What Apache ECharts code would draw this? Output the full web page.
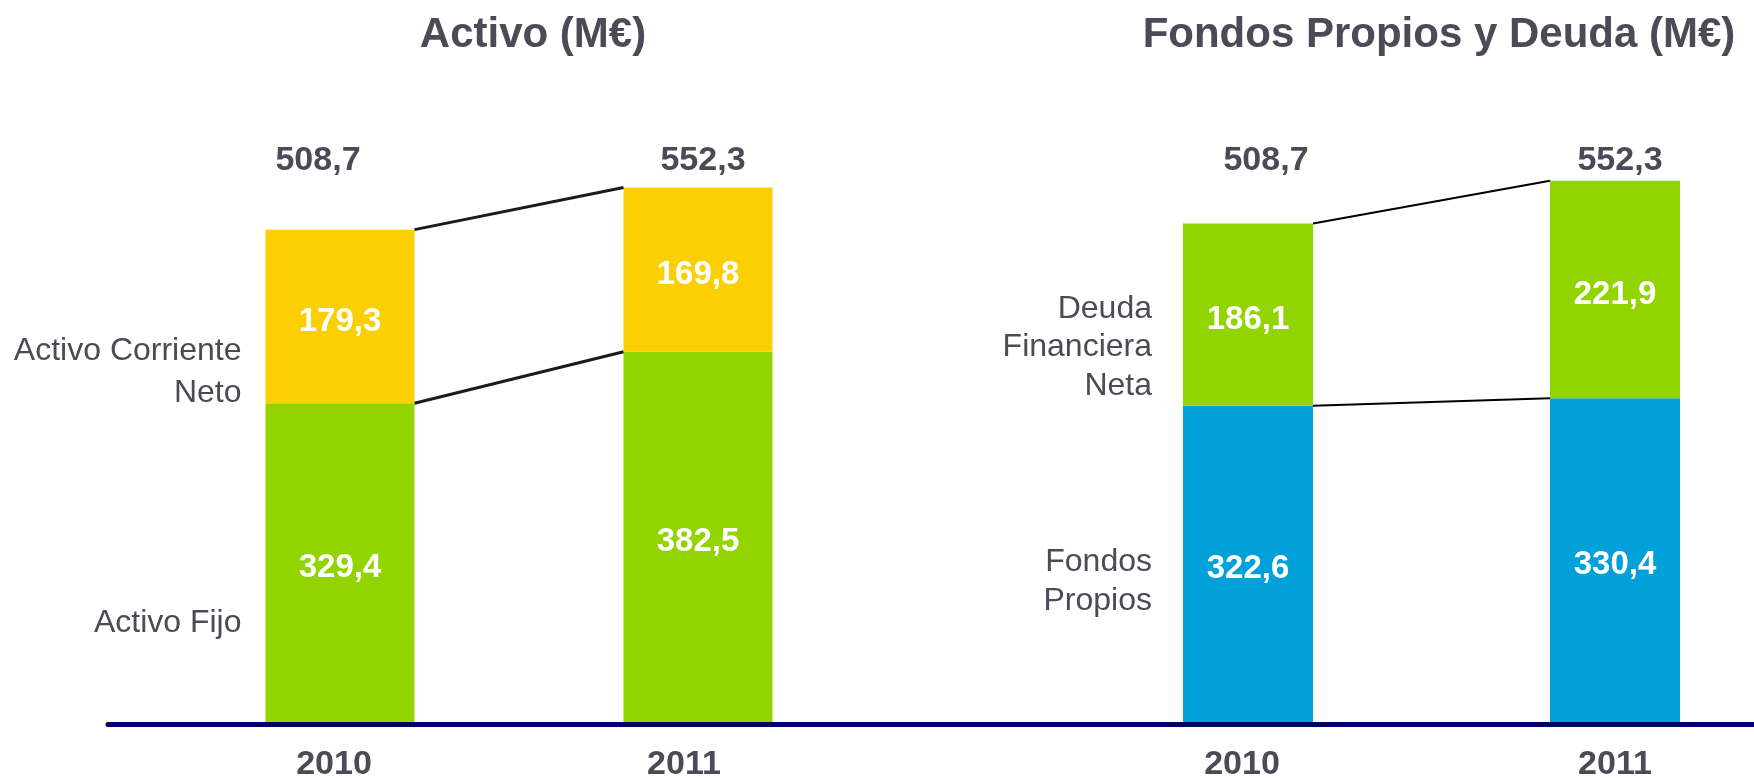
<!DOCTYPE html>
<html>
<head>
<meta charset="utf-8">
<title>Activo / Fondos Propios y Deuda</title>
<style>
  html, body { margin: 0; padding: 0; background: #fff; }
  #chart { width: 1754px; height: 778px; }
</style>
<script src="https://cdn.jsdelivr.net/npm/echarts@6/dist/echarts.min.js"></script>
</head>
<body>
<div id="chart"></div>
<script>
// datos (M€)
var years = ['2010', '2011'];
var activoFijo = [329.4, 382.5];
var activoCorriente = [179.3, 169.8];
var fondosPropios = [322.6, 330.4];
var deudaFinanciera = [186.1, 221.9];

var FONT = "'Liberation Sans', Arial, sans-serif";
var DARK = '#4b4b57';
var GREEN = '#92d400';
var YELLOW = '#fcd000';
var BLUE = '#00a0da';
var NAVY = '#000066';

function fmt(v) {
  return v.toFixed(1).replace('.', ',');
}

function sum(a, b) {
  return a.map(function (v, i) { return +(v + b[i]).toFixed(1); });
}

var totalActivo = sum(activoFijo, activoCorriente);
var totalPasivo = sum(fondosPropios, deudaFinanciera);

// small horizontal nudges of some labels, as in the slide
function shifted(shifts, size) {
  var rich = {};
  shifts.forEach(function (s, i) {
    rich['s' + i] = {
      fontFamily: FONT, fontSize: size, fontWeight: 'bold', color: DARK,
      padding: s < 0 ? [0, -2 * s, 0, 0] : [0, 0, 0, 2 * s]
    };
  });
  return {
    formatter: function (val, idx) { return '{s' + idx + '|' + val + '}'; },
    rich: rich
  };
}

function valueLabel() {
  return {
    show: true,
    position: 'inside',
    offset: [0, 5],
    color: '#fff',
    fontFamily: FONT,
    fontSize: 33,
    fontWeight: 'bold',
    formatter: function (p) { return fmt(p.value); }
  };
}

// invisible copy of a segment that carries the name to the left of the 2010 bar
function sideLabel(name, values, stack, xIdx, yIdx, barW, dist, dy, size, lh) {
  return {
    type: 'bar',
    name: name + '_lbl',
    stack: stack,
    xAxisIndex: xIdx,
    yAxisIndex: yIdx,
    barWidth: barW,
    barGap: '-100%',
    silent: true,
    itemStyle: { color: 'rgba(0,0,0,0)' },
    label: { show: false },
    data: values.map(function (v, i) {
      if (i !== 0) return v;
      return {
        value: v,
        label: {
          show: true,
          position: 'left',
          distance: dist,
          offset: [0, dy],
          color: DARK,
          fontFamily: FONT,
          fontSize: size,
          lineHeight: lh,
          align: 'right',
          formatter: name
        }
      };
    })
  };
}

function connectors(bottom, top, xIdx, yIdx, barW, width, color) {
  var cumTop = sum(bottom, top);
  var data = [
    [0, cumTop[0], 1, cumTop[1]],
    [0, bottom[0], 1, bottom[1]]
  ];
  return {
    type: 'custom',
    xAxisIndex: xIdx,
    yAxisIndex: yIdx,
    silent: true,
    z: 5,
    encode: { x: [0, 2], y: [1, 3] },
    renderItem: function (params, api) {
      var p0 = api.coord([api.value(0), api.value(1)]);
      var p1 = api.coord([api.value(2), api.value(3)]);
      return {
        type: 'line',
        shape: { x1: p0[0] + barW / 2, y1: p0[1], x2: p1[0] - barW / 2, y2: p1[1] },
        style: { stroke: color, lineWidth: width }
      };
    },
    data: data
  };
}

function bottomAxis(grid, shifts) {
  var s = shifted(shifts, 34);
  return {
    type: 'category', gridIndex: grid, data: years, position: 'bottom', boundaryGap: false,
    axisLine: { show: false }, axisTick: { show: false }, splitLine: { show: false },
    axisLabel: { margin: 26, formatter: s.formatter, rich: s.rich }
  };
}

function topAxis(grid, totals, shifts) {
  var s = shifted(shifts, 34);
  return {
    type: 'category', gridIndex: grid, data: totals.map(fmt), position: 'top', boundaryGap: false,
    axisLine: { show: false }, axisTick: { show: false }, splitLine: { show: false },
    axisLabel: { margin: 2, formatter: s.formatter, rich: s.rich }
  };
}

var LBAR = 149;
var RBAR = 130;

var chart = echarts.init(document.getElementById('chart'));
var option = {
  backgroundColor: '#fff',
  animation: false,
  title: [
    {
      text: 'Activo (M€)', left: 533, top: 14, textAlign: 'center', padding: 0,
      textStyle: { fontFamily: FONT, fontSize: 42, fontWeight: 'bold', color: DARK }
    },
    {
      text: 'Fondos Propios y Deuda (M€)', left: 1439, top: 14, textAlign: 'center', padding: 0,
      textStyle: { fontFamily: FONT, fontSize: 42, fontWeight: 'bold', color: DARK }
    }
  ],
  // category points sit on the grid edges (boundaryGap false)
  grid: [
    { left: 340, width: 358, top: 180, bottom: 56, outerBoundsMode: 'none' },
    { left: 1248, width: 367, top: 180, bottom: 56, outerBoundsMode: 'none' },
    { left: 108, right: 0, top: 180, bottom: 54, outerBoundsMode: 'none' }
  ],
  xAxis: [
    bottomAxis(0, [-6, -14]),
    topAxis(0, totalActivo, [-22, 5]),
    bottomAxis(1, [-6, 0]),
    topAxis(1, totalPasivo, [18, 5]),
    {
      type: 'category', gridIndex: 2, data: [''],
      axisLine: { show: true, lineStyle: { color: NAVY, width: 5 } },
      axisTick: { show: false }, axisLabel: { show: false }
    }
  ],
  yAxis: [
    { type: 'value', gridIndex: 0, min: 0, max: 560, show: false },
    { type: 'value', gridIndex: 1, min: 0, max: 553, show: false },
    { type: 'value', gridIndex: 2, show: false }
  ],
  series: [
    {
      type: 'bar', name: 'Activo Fijo', stack: 'activo', xAxisIndex: 0, yAxisIndex: 0,
      barWidth: LBAR, barGap: '-100%', itemStyle: { color: GREEN },
      label: valueLabel(), data: activoFijo
    },
    {
      type: 'bar', name: 'Activo Corriente Neto', stack: 'activo', xAxisIndex: 0, yAxisIndex: 0,
      barWidth: LBAR, barGap: '-100%', itemStyle: { color: YELLOW },
      label: valueLabel(), data: activoCorriente
    },
    sideLabel('Activo Fijo', activoFijo, 'activoLbl', 0, 0, LBAR, 24, 61, 32, 42),
    sideLabel('Activo Corriente\nNeto', activoCorriente, 'activoLbl', 0, 0, LBAR, 24, 56, 32, 42),
    connectors(activoFijo, activoCorriente, 0, 0, LBAR, 3, '#1a1a1a'),

    {
      type: 'bar', name: 'Fondos Propios', stack: 'pasivo', xAxisIndex: 2, yAxisIndex: 1,
      barWidth: RBAR, barGap: '-100%', itemStyle: { color: BLUE },
      label: valueLabel(), data: fondosPropios
    },
    {
      type: 'bar', name: 'Deuda Financiera Neta', stack: 'pasivo', xAxisIndex: 2, yAxisIndex: 1,
      barWidth: RBAR, barGap: '-100%', itemStyle: { color: GREEN },
      label: valueLabel(), data: deudaFinanciera
    },
    sideLabel('Fondos\nPropios', fondosPropios, 'pasivoLbl', 2, 1, RBAR, 31, 18, 32, 38.5),
    sideLabel('Deuda\nFinanciera\nNeta', deudaFinanciera, 'pasivoLbl', 2, 1, RBAR, 31, 33, 32, 38.5),
    connectors(fondosPropios, deudaFinanciera, 2, 1, RBAR, 2, '#000')
  ]
};
chart.setOption(option);
</script>
</body>
</html>
